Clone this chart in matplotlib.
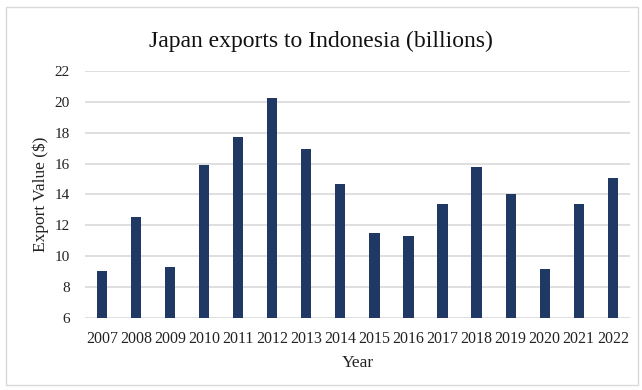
#!/usr/bin/env python3
"""Bar chart of Japan's exports to Indonesia, 2007-2022."""

import matplotlib
matplotlib.use("Agg")
import matplotlib.pyplot as plt
from matplotlib.patches import Rectangle

years = ["2007", "2008", "2009", "2010", "2011", "2012", "2013", "2014",
         "2015", "2016", "2017", "2018", "2019", "2020", "2021", "2022"]
export_values = [9.05, 12.57, 9.33, 15.9, 17.7, 20.25, 16.97, 14.7,
                 11.5, 11.3, 13.4, 15.8, 14.0, 9.2, 13.4, 15.1]
y_ticks = [6, 8, 10, 12, 14, 16, 18, 20, 22]

BAR_COLOR = "#1f3864"
GRID_COLOR = "#d9d9d9"

plt.rcParams["font.family"] = ["Liberation Serif", "DejaVu Serif"]

fig = plt.figure(figsize=(6.42, 3.90), dpi=100)
ax = fig.add_axes([0.1324, 0.1846, 0.8486, 0.6334])

positions = range(len(years))
ax.bar(positions, export_values, width=0.3, color=BAR_COLOR, zorder=3)

ax.set_xlim(-0.5, len(years) - 0.5)
ax.set_ylim(6, 22)
ax.set_yticks(y_ticks)
ax.set_xticks(list(positions))
ax.set_xticklabels(years)
ax.tick_params(axis="both", length=0, colors="#222222")
ax.tick_params(axis="x", pad=9, labelsize=11.5)
ax.tick_params(axis="y", pad=11, labelsize=11)

ax.grid(axis="y", color=GRID_COLOR, linewidth=1.2, zorder=0)
for spine in ax.spines.values():
    spine.set_visible(False)

ax.set_xlabel("Year", fontsize=12.5, color="#222222", labelpad=6)
ax.set_ylabel("Export Value ($)", fontsize=12.5, color="#222222", labelpad=4)
fig.text(0.5, 0.895, "Japan exports to Indonesia (billions)",
         ha="center", va="center", fontsize=17, color="#111111")

# light border round the whole chart
fig.patches.append(Rectangle((0.009, 0.012), 0.984, 0.97,
                             transform=fig.transFigure, fill=False,
                             edgecolor="#d9d9d9", linewidth=1.0))

fig.savefig("out.png", dpi=100)
plt.close(fig)
